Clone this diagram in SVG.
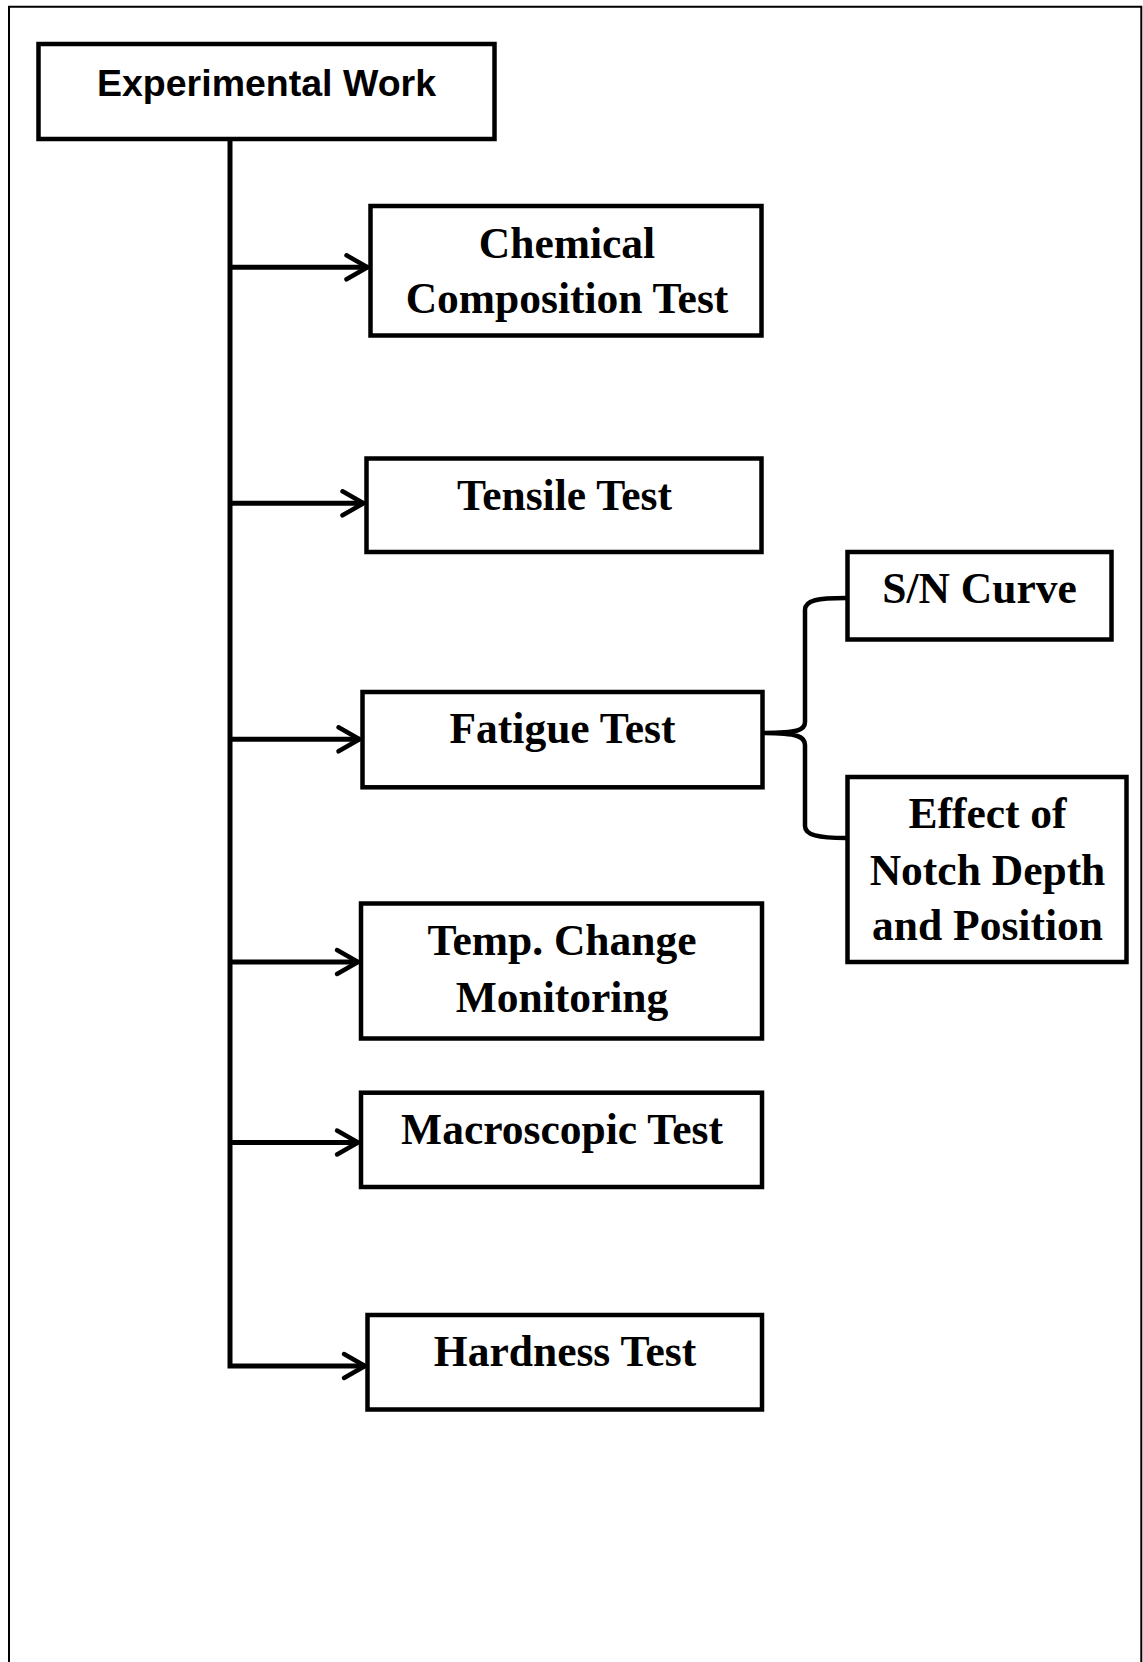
<svg xmlns="http://www.w3.org/2000/svg" width="1143" height="1662" viewBox="0 0 1143 1662">
<defs>
<style>
.box{fill:#fff;stroke:#000;stroke-width:4.5;stroke-linejoin:miter}
.t{font-family:"Liberation Serif","Times New Roman",serif;font-weight:bold;font-size:43.5px;fill:#000;text-anchor:middle}
.ts{font-family:"Liberation Sans",Arial,sans-serif;font-weight:bold;font-size:37.5px;fill:#000;text-anchor:middle}
.c{fill:none;stroke:#000;stroke-width:5}
.br{fill:none;stroke:#000;stroke-width:4.5;stroke-linecap:round;stroke-linejoin:round}
</style>
<marker id="chev" markerUnits="userSpaceOnUse" markerWidth="40" markerHeight="40" viewBox="-30 -20 40 40" refX="0" refY="0" orient="auto" overflow="visible">
<path d="M-21,-12 L0,0 L-21,12" fill="none" stroke="#000" stroke-width="4.5" stroke-linecap="round" stroke-linejoin="round"/>
</marker>
</defs>
<rect x="0" y="0" width="1143" height="1662" fill="#fff"/>
<path d="M9,1662 V6.7 H1141.3 V1662" fill="none" stroke="#000" stroke-width="2"/>
<g id="connectors">
<path class="c" d="M230,139 V1366 H365" marker-end="url(#chev)"/>
<line class="c" x1="230" y1="267.3" x2="367.5" y2="267.3" marker-end="url(#chev)"/>
<line class="c" x1="230" y1="503.3" x2="363.5" y2="503.3" marker-end="url(#chev)"/>
<line class="c" x1="230" y1="739.3" x2="359.5" y2="739.3" marker-end="url(#chev)"/>
<line class="c" x1="230" y1="962" x2="358" y2="962" marker-end="url(#chev)"/>
<line class="c" x1="230" y1="1142.5" x2="358" y2="1142.5" marker-end="url(#chev)"/>
<path class="br" d="M846,598 C818,598 805,600 805,610 L805,722 C805,730 798,733 764,733 C798,733 805,737 805,745 L805,826 C805,835 818,838 846,838"/>
</g>
<g id="n-exp">
<rect class="box" x="38.5" y="44" width="456" height="95"/>
<text class="ts" x="266.5" y="95.7">Experimental Work</text>
</g>
<g id="n-chem">
<rect class="box" x="370.5" y="206" width="391" height="129.5"/>
<text class="t" x="567" y="258.3">Chemical</text>
<text class="t" x="567" y="313.3">Composition Test</text>
</g>
<g id="n-tensile">
<rect class="box" x="366.5" y="458.5" width="395" height="93.5"/>
<text class="t" x="564.5" y="510">Tensile Test</text>
</g>
<g id="n-fatigue">
<rect class="box" x="362.5" y="692" width="400" height="95.3"/>
<text class="t" x="562.5" y="743.3">Fatigue Test</text>
</g>
<g id="n-sn">
<rect class="box" x="847.5" y="552" width="264" height="87.5"/>
<text class="t" x="979.5" y="603.3">S/N Curve</text>
</g>
<g id="n-effect">
<rect class="box" x="847.5" y="777" width="279" height="185"/>
<text class="t" x="987.5" y="828.3">Effect of</text>
<text class="t" x="987.5" y="885">Notch Depth</text>
<text class="t" x="987.5" y="940">and Position</text>
</g>
<g id="n-temp">
<rect class="box" x="361" y="903.5" width="401" height="135"/>
<text class="t" x="562" y="955">Temp. Change</text>
<text class="t" x="562" y="1012">Monitoring</text>
</g>
<g id="n-macro">
<rect class="box" x="361" y="1092.7" width="401" height="94.3"/>
<text class="t" x="562" y="1143.6">Macroscopic Test</text>
</g>
<g id="n-hard">
<rect class="box" x="367.5" y="1315" width="394.5" height="94.5"/>
<text class="t" x="565" y="1365.7">Hardness Test</text>
</g>
</svg>
